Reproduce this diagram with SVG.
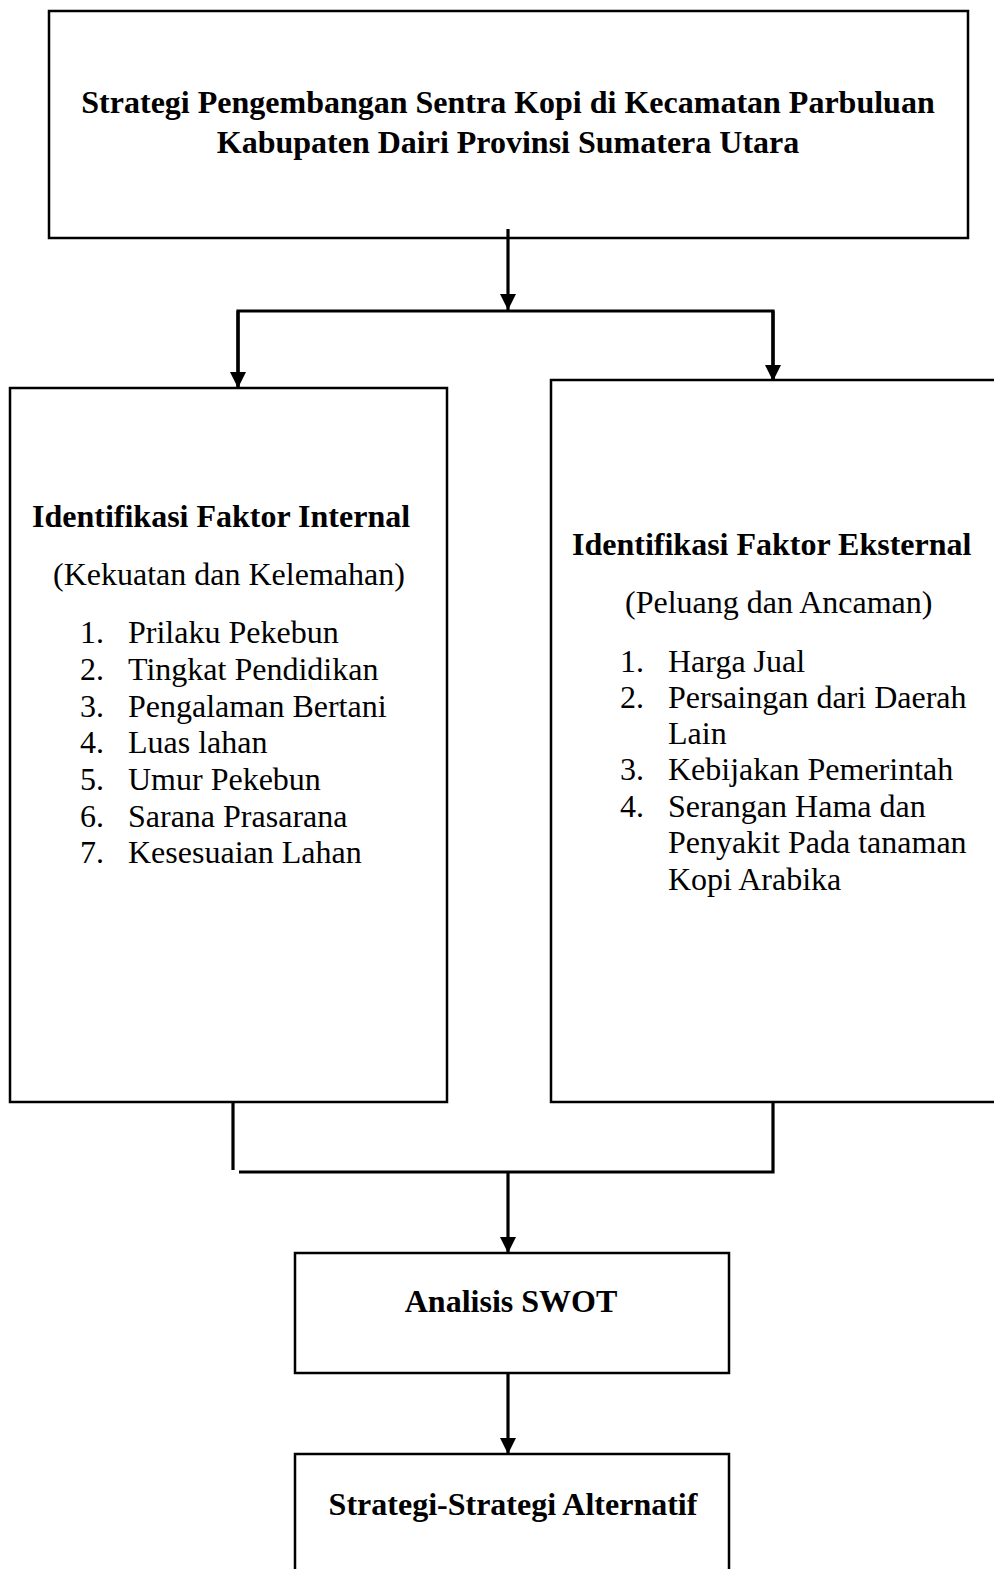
<svg xmlns="http://www.w3.org/2000/svg" width="994" height="1569" viewBox="0 0 994 1569">
<style>
.box{fill:#fff;stroke:#000;stroke-width:2.5}
.ln{fill:none;stroke:#000;stroke-width:3.2}
.b{font-family:"Liberation Serif","Times New Roman",serif;font-weight:bold;font-size:32px;fill:#000}
.r{font-family:"Liberation Serif","Times New Roman",serif;font-size:32px;fill:#000}
</style>
<defs>
<marker id="ah" markerUnits="userSpaceOnUse" markerWidth="16" markerHeight="16" viewBox="0 0 16 16" refX="16" refY="8" orient="auto">
<path d="M0,0 L16,8 L0,16 Z" fill="#000"/>
</marker>
</defs>
<g id="top">
<rect class="box" x="49" y="11" width="919" height="227"/>
<text class="b" x="508" y="113" text-anchor="middle">Strategi Pengembangan Sentra Kopi di Kecamatan Parbuluan</text>
<text class="b" x="508" y="153" text-anchor="middle">Kabupaten Dairi Provinsi Sumatera Utara</text>
</g>
<g id="internal">
<rect class="box" x="10" y="388" width="437" height="714"/>
<text class="b" x="32" y="527">Identifikasi Faktor Internal</text>
<text class="r" x="53" y="585">(Kekuatan dan Kelemahan)</text>
<g class="r">
<text x="80" y="643">1.</text><text x="128" y="643">Prilaku Pekebun</text>
<text x="80" y="680">2.</text><text x="128" y="680">Tingkat Pendidikan</text>
<text x="80" y="717">3.</text><text x="128" y="717">Pengalaman Bertani</text>
<text x="80" y="753">4.</text><text x="128" y="753">Luas lahan</text>
<text x="80" y="790">5.</text><text x="128" y="790">Umur Pekebun</text>
<text x="80" y="827">6.</text><text x="128" y="827">Sarana Prasarana</text>
<text x="80" y="863">7.</text><text x="128" y="863">Kesesuaian Lahan</text>
</g>
</g>
<g id="external">
<rect class="box" x="551" y="380" width="460" height="722"/>
<text class="b" x="572" y="555">Identifikasi Faktor Eksternal</text>
<text class="r" x="625" y="613">(Peluang dan Ancaman)</text>
<g class="r">
<text x="620" y="672">1.</text><text x="668" y="672">Harga Jual</text>
<text x="620" y="708">2.</text><text x="668" y="708">Persaingan dari Daerah</text>
<text x="668" y="744">Lain</text>
<text x="620" y="780">3.</text><text x="668" y="780">Kebijakan Pemerintah</text>
<text x="620" y="817">4.</text><text x="668" y="817">Serangan Hama dan</text>
<text x="668" y="853">Penyakit Pada tanaman</text>
<text x="668" y="890">Kopi Arabika</text>
</g>
</g>
<g id="swot">
<rect class="box" x="295" y="1253" width="434" height="120"/>
<text class="b" x="511" y="1312" text-anchor="middle">Analisis SWOT</text>
</g>
<g id="alternatif">
<rect class="box" x="295" y="1454" width="434" height="130"/>
<text class="b" x="513" y="1515" text-anchor="middle">Strategi-Strategi Alternatif</text>
</g>
<g id="connectors">
<line class="ln" x1="508" y1="229" x2="508" y2="310" marker-end="url(#ah)"/>
<polyline class="ln" points="238,387 238,311 773,311 773,380"/>
<line class="ln" x1="238" y1="311" x2="238" y2="388" marker-end="url(#ah)"/>
<line class="ln" x1="773" y1="311" x2="773" y2="381" marker-end="url(#ah)"/>
<line class="ln" x1="233" y1="1102" x2="233" y2="1170"/>
<polyline class="ln" points="239,1172 773,1172 773,1102"/>
<line class="ln" x1="508" y1="1172" x2="508" y2="1253" marker-end="url(#ah)"/>
<line class="ln" x1="508" y1="1373" x2="508" y2="1454" marker-end="url(#ah)"/>
</g>
</svg>
